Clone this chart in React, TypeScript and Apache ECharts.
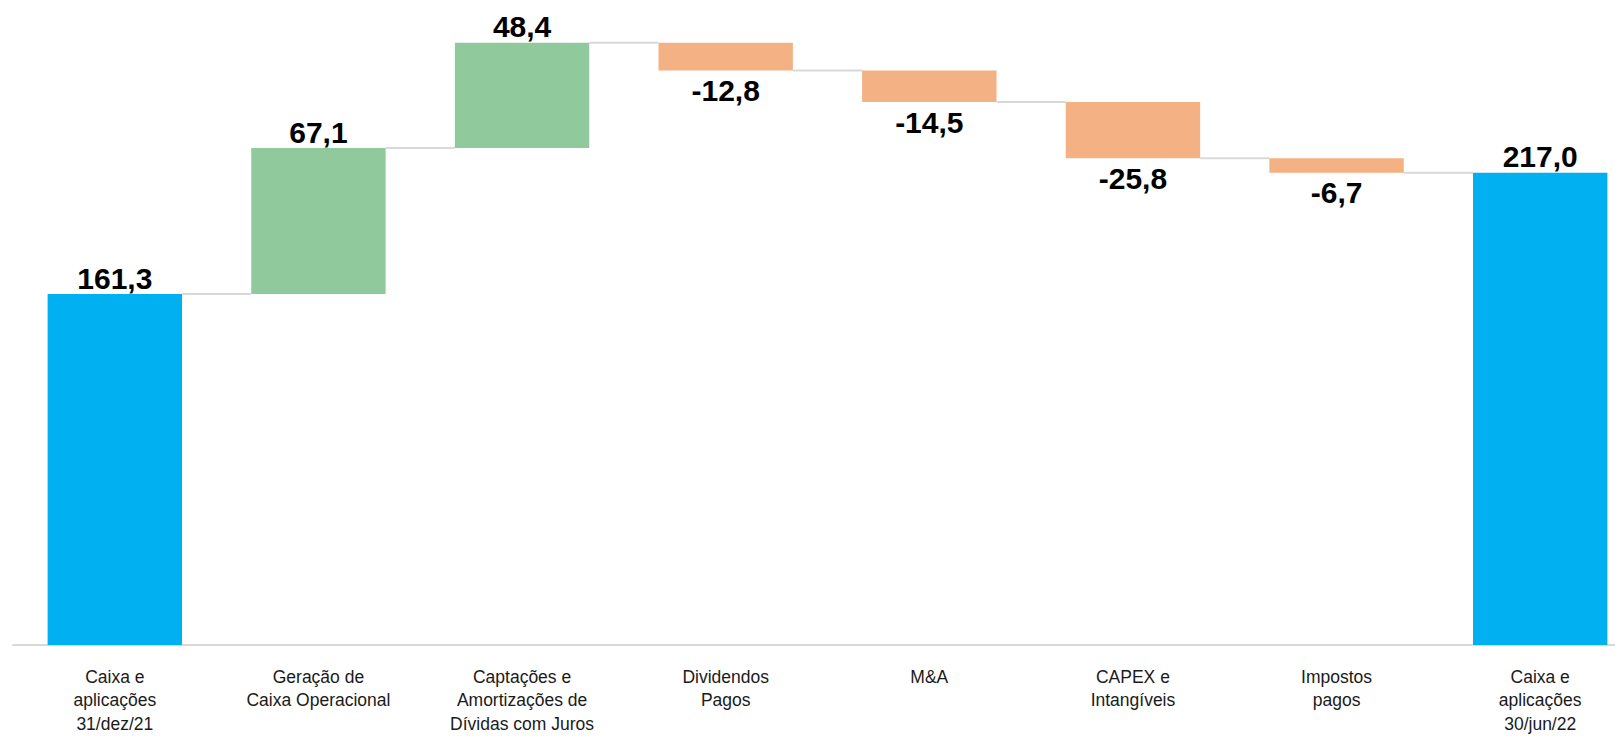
import React, { useEffect, useRef } from "react";
import * as echarts from "echarts";

const categories = [
  "Caixa e\naplicações\n31/dez/21",
  "Geração de\nCaixa Operacional",
  "Captações e\nAmortizações de\nDívidas com Juros",
  "Dividendos\nPagos",
  "M&A",
  "CAPEX e\nIntangíveis",
  "Impostos\npagos",
  "Caixa e\naplicações\n30/jun/22",
];
const values = [161.3, 67.1, 48.4, -12.8, -14.5, -25.8, -6.7, 217.0];
const isTotal = [true, false, false, false, false, false, false, true];

const COLOR_TOTAL = "#00B0F0";
const COLOR_UP = "#90C99B";
const COLOR_DOWN = "#F4B183";

function fmt(v: number) {
  return v.toFixed(1).replace(".", ",");
}

export default function App() {
  const ref = useRef<HTMLDivElement>(null);
  useEffect(() => {
    document.body.style.margin = "0";
    const chart = echarts.init(ref.current!, null, { renderer: "svg" });

    const bases: number[] = [];
    const heights: number[] = [];
    const levels: number[] = [];
    let cum = 0;
    values.forEach((v, i) => {
      if (isTotal[i]) {
        bases.push(0);
        heights.push(v);
        cum = v;
      } else if (v >= 0) {
        bases.push(cum);
        heights.push(v);
        cum += v;
      } else {
        bases.push(cum + v);
        heights.push(-v);
        cum += v;
      }
      levels.push(cum);
    });

    const barRatio = 0.66;
    const font = "'Liberation Sans', Arial, sans-serif";

    chart.setOption({
      animation: false,
      grid: { left: 13, right: 0, top: 14, bottom: 91, containLabel: false },
      xAxis: {
        type: "category",
        data: categories,
        axisTick: { show: false },
        axisLine: { lineStyle: { color: "#d9d9d9", width: 2 } },
        axisLabel: {
          interval: 0,
          margin: 20,
          fontSize: 17.5,
          lineHeight: 23.5,
          color: "#1a1a1a",
          fontFamily: font,
        },
      },
      yAxis: {
        type: "value",
        min: 0,
        max: 290,
        show: false,
        splitLine: { show: false },
      },
      series: [
        {
          type: "bar",
          stack: "wf",
          silent: true,
          itemStyle: { color: "transparent" },
          data: bases,
          barWidth: barRatio * 100 + "%",
        },
        {
          type: "bar",
          stack: "wf",
          barWidth: barRatio * 100 + "%",
          data: heights.map((h, i) => ({
            value: h,
            itemStyle: {
              color: isTotal[i] ? COLOR_TOTAL : values[i] >= 0 ? COLOR_UP : COLOR_DOWN,
            },
            label: {
              show: true,
              position: values[i] >= 0 ? "top" : "bottom",
              distance: values[i] >= 0 ? 1 : 5,
              formatter: () => fmt(values[i]),
              fontSize: 30,
              fontWeight: "bold",
              color: "#000",
              fontFamily: font,
            },
          })),
        },
        {
          type: "custom",
          silent: true,
          data: levels.slice(0, -1).map((l, i) => [i, l]),
          renderItem: (params: any, api: any) => {
            const idx = api.value(0);
            const lvl = api.value(1);
            const p = api.coord([idx, lvl]);
            const bw = api.size([1, 0])[0];
            const half = (bw * barRatio) / 2;
            return {
              type: "line",
              shape: { x1: p[0] + half, y1: p[1], x2: p[0] + bw - half, y2: p[1] },
              style: { stroke: "#d9d9d9", lineWidth: 2 },
            };
          },
        },
      ],
    });
    return () => chart.dispose();
  }, []);
  return (
    <div
      style={{ position: "absolute", left: 0, top: 0, width: 1615, height: 736, overflow: "hidden" }}
    >
      <div ref={ref} style={{ width: 1642, height: 736 }} />
    </div>
  );
}
